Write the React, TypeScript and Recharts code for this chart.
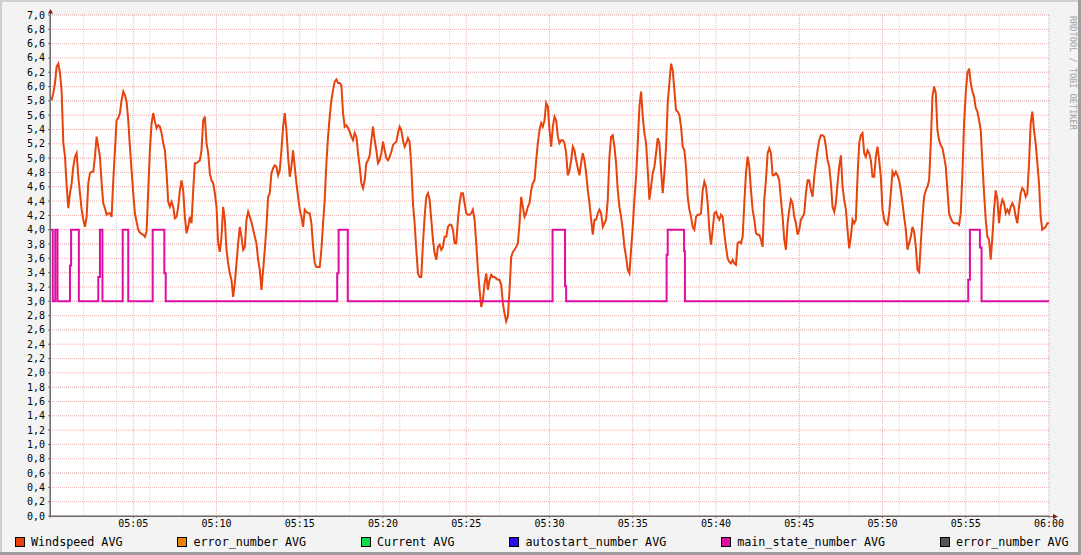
import { LineChart, Line, XAxis, YAxis, CartesianGrid } from 'recharts';

// Windspeed AVG, one reading every 6 s from 05:00:00 to 06:00:00
const windspeed = [
  5.82, 5.82, 5.91, 6.05, 6.28, 6.32, 6.19, 5.93, 5.21, 5.02,
  4.62, 4.30, 4.51, 4.65, 4.88, 5.02, 5.07, 4.74, 4.51, 4.28,
  4.14, 4.04, 4.18, 4.65, 4.79, 4.81, 4.81, 5.02, 5.30, 5.16,
  5.02, 4.65, 4.37, 4.30, 4.21, 4.23, 4.23, 4.18, 4.69, 5.11,
  5.53, 5.56, 5.63, 5.81, 5.93, 5.88, 5.79, 5.53, 5.16, 4.83,
  4.51, 4.23, 4.11, 4.00, 3.96, 3.94, 3.93, 3.90, 3.97, 4.55,
  5.11, 5.49, 5.63, 5.51, 5.42, 5.46, 5.44, 5.35, 5.21, 5.11,
  4.79, 4.39, 4.32, 4.39, 4.32, 4.16, 4.18, 4.32, 4.55, 4.69,
  4.55, 4.18, 3.95, 4.04, 4.18, 4.09, 4.55, 4.93, 4.93, 4.95,
  4.97, 5.11, 5.53, 5.58, 5.21, 5.07, 4.79, 4.69, 4.65, 4.51,
  4.32, 3.81, 3.69, 3.90, 4.32, 4.14, 3.72, 3.53, 3.39, 3.30,
  3.06, 3.25, 3.53, 3.81, 4.04, 3.90, 3.72, 3.76, 4.14, 4.25,
  4.18, 4.11, 4.00, 3.90, 3.81, 3.58, 3.44, 3.16, 3.44, 3.72,
  4.04, 4.46, 4.51, 4.79, 4.86, 4.90, 4.88, 4.76, 4.83, 5.11,
  5.44, 5.63, 5.39, 5.02, 4.74, 4.88, 5.11, 4.88, 4.65, 4.46,
  4.28, 4.18, 4.04, 4.28, 4.25, 4.23, 4.23, 4.09, 3.76, 3.53,
  3.48, 3.48, 3.48, 3.72, 4.09, 4.42, 4.93, 5.30, 5.58, 5.81,
  5.95, 6.07, 6.10, 6.05, 6.05, 6.02, 5.63, 5.44, 5.46, 5.42,
  5.37, 5.30, 5.25, 5.35, 5.30, 5.07, 4.88, 4.65, 4.58, 4.69,
  4.93, 4.97, 5.04, 5.25, 5.44, 5.25, 5.11, 4.93, 4.97, 5.07,
  5.23, 5.11, 5.00, 4.97, 5.02, 5.09, 5.18, 5.21, 5.23, 5.35,
  5.44, 5.39, 5.25, 5.16, 5.21, 5.28, 5.23, 4.88, 4.37, 4.09,
  3.72, 3.39, 3.34, 3.34, 3.81, 4.18, 4.46, 4.51, 4.42, 4.14,
  3.86, 3.67, 3.58, 3.76, 3.79, 3.72, 3.76, 3.90, 3.90, 4.04,
  4.07, 4.07, 4.00, 3.81, 3.81, 4.14, 4.37, 4.51, 4.51, 4.37,
  4.23, 4.21, 4.21, 4.23, 4.28, 4.14, 3.81, 3.44, 3.16, 2.92,
  3.02, 3.25, 3.39, 3.16, 3.30, 3.37, 3.34, 3.34, 3.32, 3.30,
  3.30, 3.23, 2.97, 2.83, 2.72, 2.79, 3.16, 3.62, 3.69, 3.72,
  3.76, 3.81, 4.09, 4.46, 4.32, 4.18, 4.23, 4.32, 4.37, 4.55,
  4.65, 4.69, 4.97, 5.21, 5.39, 5.49, 5.44, 5.53, 5.77, 5.72,
  5.39, 5.16, 5.44, 5.58, 5.53, 5.30, 5.21, 5.25, 5.25, 5.21,
  5.07, 4.76, 4.83, 4.97, 5.16, 5.11, 4.97, 4.86, 4.76, 4.93,
  5.07, 4.97, 4.79, 4.55, 4.37, 4.14, 3.93, 4.14, 4.14, 4.23,
  4.28, 4.23, 4.04, 4.09, 4.14, 4.42, 5.02, 5.30, 5.32, 5.16,
  4.93, 4.55, 4.32, 4.18, 4.00, 3.76, 3.62, 3.44, 3.39, 3.72,
  4.04, 4.42, 4.74, 5.21, 5.72, 5.93, 5.58, 5.35, 5.21, 4.83,
  4.42, 4.60, 4.79, 4.88, 5.07, 5.28, 5.21, 4.83, 4.51, 4.79,
  5.16, 5.77, 6.05, 6.32, 6.23, 5.95, 5.67, 5.65, 5.60, 5.44,
  5.16, 5.11, 4.88, 4.46, 4.28, 4.18, 4.04, 4.00, 4.18, 4.21,
  4.21, 4.23, 4.55, 4.67, 4.60, 4.37, 4.00, 3.79, 4.00, 4.23,
  4.25, 4.18, 4.14, 4.21, 4.18, 3.95, 3.76, 3.60, 3.55, 3.53,
  3.58, 3.53, 3.51, 3.81, 3.83, 3.81, 3.90, 4.37, 4.79, 5.02,
  4.88, 4.55, 4.28, 4.14, 3.95, 3.93, 3.93, 3.86, 3.76, 4.42,
  4.69, 5.07, 5.14, 5.07, 4.76, 4.76, 4.79, 4.76, 4.69, 4.42,
  4.18, 3.86, 3.72, 4.09, 4.28, 4.42, 4.37, 4.18, 4.09, 3.93,
  4.00, 4.14, 4.18, 4.23, 4.51, 4.69, 4.69, 4.55, 4.46, 4.74,
  4.93, 5.11, 5.25, 5.32, 5.32, 5.30, 5.16, 4.97, 4.88, 4.65,
  4.32, 4.25, 4.37, 4.65, 4.88, 5.04, 4.60, 4.42, 4.28, 4.00,
  3.74, 3.90, 4.14, 4.09, 4.14, 4.74, 5.21, 5.32, 5.35, 5.07,
  5.02, 5.11, 5.07, 4.97, 4.74, 4.74, 5.02, 5.16, 4.97, 4.74,
  4.28, 4.14, 4.09, 4.07, 4.23, 4.51, 4.81, 4.76, 4.81, 4.76,
  4.69, 4.55, 4.37, 4.18, 4.00, 3.72, 3.81, 3.90, 4.04, 3.97,
  3.76, 3.44, 3.41, 3.81, 4.18, 4.46, 4.55, 4.60, 4.69, 5.21,
  5.86, 6.00, 5.91, 5.39, 5.25, 5.18, 5.14, 5.02, 4.88, 4.55,
  4.23, 4.16, 4.11, 4.09, 4.09, 4.09, 4.07, 4.23, 4.79, 5.49,
  5.91, 6.19, 6.25, 6.05, 5.93, 5.86, 5.70, 5.65, 5.53, 5.39,
  4.93, 4.51, 4.14, 3.90, 3.86, 3.58, 3.90, 4.28, 4.55, 4.42,
  4.09, 4.32, 4.42, 4.37, 4.23, 4.28, 4.23, 4.32, 4.37, 4.32,
  4.18, 4.09, 4.32, 4.51, 4.58, 4.55, 4.46, 4.51, 4.93, 5.49,
  5.65, 5.39, 5.21, 4.93, 4.65, 4.18, 4.00, 4.02, 4.04, 4.09,
  4.09,
];
const windStep = 6; // seconds between readings

// main_state_number AVG, change points (seconds after 05:00) and values
const stateTimes = [0, 10, 19, 27, 72, 76, 104, 174, 180, 189, 262, 282, 370, 412, 417, 1035, 1040, 1073, 1811, 1856, 1860, 2222, 2226, 2285, 2288, 3309, 3315, 3351, 3357, 3600];
const stateValues = [4, 3, 4, 3, 3.5, 4, 3, 3.34, 4, 3, 4, 3, 4, 3.39, 3, 3.39, 4, 3, 4, 3.21, 3, 3.65, 4, 3.7, 3, 3.3, 4, 3.75, 3, 3];

const legendItems = [
  { name: 'Windspeed AVG', color: '#E6430D' },
  { name: 'error_number AVG', color: '#E8820C' },
  { name: 'Current AVG', color: '#0BDA4B' },
  { name: 'autostart_number AVG', color: '#2B0CE3' },
  { name: 'main_state_number AVG', color: '#E00DA2' },
  { name: 'error_number AVG', color: '#555555' },
];

const majorY = Array.from({ length: 36 }, (_, i) => +(i * 0.2).toFixed(1));
const minorY = Array.from({ length: 71 }, (_, i) => +(i * 0.1).toFixed(1));
const majorX = Array.from({ length: 13 }, (_, i) => i * 300);
const minorX = Array.from({ length: 61 }, (_, i) => i * 60);

const windData = windspeed.map((v, i) => ({ t: i * windStep, v }));
const stateData = stateTimes.map((t, i) => ({ t, s: stateValues[i] }));

const mono = '"DejaVu Sans Mono", monospace';

const fmtTime = (t: number) => {
  if (t === 0) return '';
  const m = t / 60;
  const h = 5 + Math.floor(m / 60);
  const mm = m % 60;
  return `${String(h).padStart(2, '0')}:${String(mm).padStart(2, '0')}`;
};

export default function App() {
  return (
    <div style={{ position: 'fixed', left: 0, top: 0, width: 1081, height: 555, background: '#F3F3F3', overflow: 'hidden' }}>
      <div style={{ position: 'absolute', left: 0, top: 0, width: 1081, height: 2, background: '#CFCFCF' }} />
      <div style={{ position: 'absolute', left: 0, top: 0, width: 2, height: 555, background: '#CFCFCF' }} />
      <div style={{ position: 'absolute', right: 0, top: 0, width: 3, height: 555, background: '#9E9E9E' }} />
      <div style={{ position: 'absolute', left: 0, bottom: 0, width: 1081, height: 3, background: '#9E9E9E' }} />

      <LineChart width={1081} height={555} margin={{ top: 15, right: 32, bottom: 0, left: 0 }} style={{ position: 'absolute', left: 0, top: 0 }}>
        <XAxis xAxisId="minor" type="number" dataKey="t" domain={[0, 3600]} ticks={minorX} allowDataOverflow hide />
        <YAxis yAxisId="minor" type="number" domain={[0, 7]} ticks={minorY} allowDataOverflow hide />
        <CartesianGrid xAxisId="minor" yAxisId="minor" stroke="#D6D6D6" strokeDasharray="1 1" fill="#FFFFFF" fillOpacity={1} />
        <CartesianGrid xAxisId="major" yAxisId="major" stroke="#EDB3B3" strokeDasharray="1 1" />
        <XAxis
          xAxisId="major"
          type="number"
          dataKey="t"
          domain={[0, 3600]}
          ticks={majorX}
          allowDataOverflow
          interval={0}
          height={39}
          tickFormatter={fmtTime}
          tick={{ fontSize: 10, fontFamily: mono, fill: '#000' }}
          tickSize={2}
          tickMargin={2}
          axisLine={{ stroke: '#6D6D6D' }}
          tickLine={{ stroke: '#D25A5A' }}
        />
        <YAxis
          yAxisId="major"
          type="number"
          domain={[0, 7]}
          ticks={majorY}
          allowDataOverflow
          interval={0}
          width={50}
          tickFormatter={(v: number) => v.toFixed(1).replace('.', ',')}
          tick={{ fontSize: 10, fontFamily: mono, fill: '#000' }}
          tickSize={2}
          tickMargin={3}
          axisLine={{ stroke: '#6D6D6D' }}
          tickLine={{ stroke: '#6D6D6D' }}
        />
        <Line xAxisId="major" yAxisId="major" data={windData} dataKey="v" type="linear" stroke="#E6430D" strokeWidth={2} dot={false} activeDot={false} isAnimationActive={false} />
        <Line xAxisId="major" yAxisId="major" data={stateData} dataKey="s" type="stepAfter" stroke="#E00DA2" strokeWidth={2} dot={false} activeDot={false} isAnimationActive={false} />
      </LineChart>

      <svg width={1081} height={555} style={{ position: 'absolute', left: 0, top: 0, pointerEvents: 'none' }}>
        <line x1={50.5} y1={516} x2={50.5} y2={12} stroke="#6D6D6D" strokeWidth={1} />
        <line x1={50} y1={516.5} x2={1054} y2={516.5} stroke="#6D6D6D" strokeWidth={1} />
        <polygon points="48,13.5 53,13.5 50.5,9" fill="#8B1A1A" />
        <polygon points="1053,514 1053,519 1058,516.5" fill="#8B1A1A" />
      </svg>

      <div
        style={{
          position: 'absolute',
          left: 1068,
          top: 16,
          writingMode: 'vertical-rl',
          fontFamily: mono,
          fontSize: 8.6,
          color: '#A3A3A3',
          whiteSpace: 'nowrap',
        }}
      >
        RRDTOOL / TOBI OETIKER
      </div>

      <div style={{ position: 'absolute', left: 15, top: 535, display: 'flex', gap: 55, fontFamily: mono, fontSize: 11.7, color: '#000', whiteSpace: 'pre' }}>
        {legendItems.map((it, i) => (
          <div key={i} style={{ display: 'flex', alignItems: 'center', gap: 6 }}>
            <span style={{ width: 8, height: 8, background: it.color, border: '1px solid #000', display: 'inline-block' }} />
            <span>{it.name}</span>
          </div>
        ))}
      </div>
    </div>
  );
}
